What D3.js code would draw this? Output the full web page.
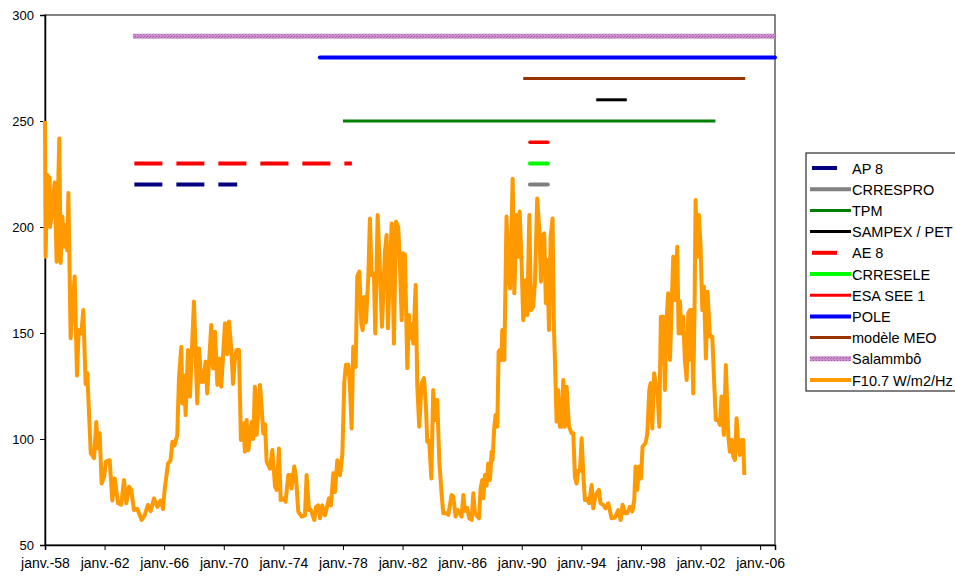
<!DOCTYPE html>
<html>
<head>
<meta charset="utf-8">
<script src="https://cdn.jsdelivr.net/npm/d3@7"></script>
<style>
  body { margin: 0; background: #fff; }
  svg { display: block; font-family: "Liberation Sans", Arial, sans-serif; }
</style>
</head>
<body>
<svg id="chart" width="955" height="578"></svg>
<script>
// Flat segments: one mission / model per row, level on the y scale, start and end in decimal years
const seriesNames = ["AP 8", "CRRESPRO", "TPM", "SAMPEX / PET", "AE 8", "CRRESELE",
                     "ESA SEE 1", "POLE", "modèle MEO", "Salammbô", "F10.7 W/m2/Hz"];
const seriesColors = ["#000080", "#808080", "#008000", "#000000", "#ff0000", "#00ff00",
                      "#ff0000", "#0000ff", "#993300", "url(#salam)", "#ff9900"];
const segLevel = [220, 220, 250, 260, 230, 230, 240, 280, 270, 290];
const segStart = [1964.0, 1990.55, 1978.0, 1995.0, 1964.0, 1990.55, 1990.55, 1976.45, 1990.1, 1963.9];
const segEnd   = [1970.9, 1991.75, 2003.0, 1997.05, 1978.6, 1991.75, 1991.75, 2007.0, 2005.0, 2007.0];

// F10.7 solar flux
const f107Year = [
  1958.00, 1958.04, 1958.16, 1958.31, 1958.34, 1958.49, 1958.65, 1958.78, 1958.83, 1958.96,
  1959.05, 1959.16, 1959.32, 1959.41, 1959.50, 1959.57, 1959.72, 1959.99, 1960.15, 1960.26,
  1960.44, 1960.57, 1960.73, 1960.84, 1961.07, 1961.29, 1961.44, 1961.56, 1961.67, 1961.80,
  1961.96, 1962.09, 1962.34, 1962.52, 1962.68, 1962.90, 1963.12, 1963.30, 1963.46, 1963.64,
  1963.79, 1963.97, 1964.20, 1964.49, 1964.69, 1964.91, 1965.09, 1965.32, 1965.54, 1965.76,
  1965.92, 1966.03, 1966.26, 1966.43, 1966.55, 1966.70, 1966.88, 1966.99, 1967.15, 1967.22,
  1967.33, 1967.44, 1967.60, 1967.73, 1968.00, 1968.22, 1968.34, 1968.49, 1968.63, 1968.78,
  1968.89, 1969.16, 1969.28, 1969.41, 1969.57, 1969.72, 1969.83, 1970.08, 1970.24, 1970.35,
  1970.51, 1970.62, 1970.75, 1970.86, 1971.02, 1971.15, 1971.31, 1971.42, 1971.53, 1971.65,
  1971.87, 1971.98, 1972.09, 1972.21, 1972.43, 1972.54, 1972.65, 1972.77, 1972.88, 1973.10,
  1973.26, 1973.44, 1973.55, 1973.70, 1973.82, 1974.00, 1974.15, 1974.33, 1974.44, 1974.55,
  1974.73, 1974.85, 1975.00, 1975.23, 1975.45, 1975.56, 1975.72, 1975.85, 1976.08, 1976.19,
  1976.34, 1976.46, 1976.61, 1976.79, 1976.90, 1977.06, 1977.19, 1977.35, 1977.46, 1977.62,
  1977.80, 1977.96, 1978.09, 1978.20, 1978.36, 1978.47, 1978.58, 1978.69, 1978.85, 1978.96,
  1979.10, 1979.23, 1979.32, 1979.43, 1979.54, 1979.70, 1979.81, 1979.92, 1980.08, 1980.17,
  1980.33, 1980.48, 1980.62, 1980.82, 1980.93, 1981.02, 1981.15, 1981.27, 1981.42, 1981.56,
  1981.71, 1981.83, 1981.94, 1982.05, 1982.16, 1982.32, 1982.43, 1982.54, 1982.61, 1982.72,
  1982.88, 1982.99, 1983.12, 1983.28, 1983.44, 1983.57, 1983.66, 1983.79, 1983.93, 1984.06,
  1984.17, 1984.33, 1984.47, 1984.62, 1984.73, 1984.96, 1985.07, 1985.29, 1985.40, 1985.56,
  1985.70, 1985.96, 1986.08, 1986.19, 1986.34, 1986.48, 1986.64, 1986.75, 1986.86, 1987.13,
  1987.24, 1987.35, 1987.42, 1987.53, 1987.64, 1987.75, 1987.87, 1987.98, 1988.04, 1988.16,
  1988.25, 1988.36, 1988.45, 1988.54, 1988.65, 1988.69, 1988.83, 1988.98, 1989.12, 1989.21,
  1989.39, 1989.50, 1989.66, 1989.77, 1989.86, 1989.99, 1990.10, 1990.21, 1990.28, 1990.37,
  1990.51, 1990.62, 1990.77, 1990.89, 1991.04, 1991.18, 1991.29, 1991.40, 1991.51, 1991.62,
  1991.71, 1991.83, 1991.94, 1992.07, 1992.16, 1992.23, 1992.34, 1992.45, 1992.56, 1992.68,
  1992.79, 1992.90, 1993.01, 1993.17, 1993.35, 1993.46, 1993.57, 1993.68, 1993.79, 1993.91,
  1994.02, 1994.13, 1994.24, 1994.35, 1994.53, 1994.69, 1994.80, 1994.96, 1995.18, 1995.29,
  1995.47, 1995.63, 1995.81, 1996.03, 1996.26, 1996.48, 1996.64, 1996.77, 1996.93, 1997.08,
  1997.26, 1997.42, 1997.55, 1997.64, 1997.75, 1997.87, 1998.00, 1998.11, 1998.31, 1998.43,
  1998.56, 1998.65, 1998.76, 1998.89, 1999.01, 1999.10, 1999.23, 1999.34, 1999.50, 1999.61,
  1999.72, 1999.83, 1999.95, 2000.06, 2000.17, 2000.30, 2000.44, 2000.53, 2000.62, 2000.73,
  2000.84, 2000.95, 2001.07, 2001.18, 2001.29, 2001.36, 2001.42, 2001.51, 2001.60, 2001.67,
  2001.78, 2001.89, 2002.00, 2002.12, 2002.23, 2002.36, 2002.47, 2002.63, 2002.79, 2002.90,
  2003.03, 2003.19, 2003.30, 2003.41, 2003.57, 2003.70, 2003.86, 2003.97, 2004.09, 2004.20,
  2004.31, 2004.42, 2004.53, 2004.64, 2004.76, 2004.87, 2004.94
];
const f107Value = [
  250, 186, 224.5, 223, 200, 208, 221, 183.6, 203, 241.8,
  183, 205, 190.7, 201, 189, 216, 147.5, 176.6, 130, 151.4,
  149.8, 160.8, 126, 131, 93.3, 91, 108, 95.6, 102.7, 79,
  82, 89.3, 90, 71, 81.4, 69.7, 69, 80.7, 69.7, 77.5,
  76, 66.5, 67, 61.8, 64, 68.9, 66, 72, 68, 71,
  67, 76, 88.5, 90, 98.7, 97, 101.9, 128.6, 143.5, 116.8,
  130, 111.3, 142, 120, 164.8, 116.8, 142.7, 127, 127, 136.5,
  121.5, 153.8, 133.3, 150.6, 125.5, 138, 124.7, 154.6, 140, 155.4,
  142, 126, 138, 142, 142, 99.5, 107.4, 94, 109, 94.7,
  108, 100, 124.7, 102, 125.5, 115, 102.6, 107, 89.3, 86,
  94.8, 77.5, 76, 95.5, 71.2, 72, 70.4, 83, 83, 76.7,
  87, 82, 65.7, 63.4, 64, 83, 66.5, 66.5, 61.8, 68,
  68.7, 62.6, 68.7, 64, 67, 72, 68.7, 83.8, 75, 90,
  82.9, 93, 127, 135, 135, 124.7, 105, 143.5, 134, 176.6,
  179, 154.6, 151.4, 167, 155, 176, 204, 177.4, 178, 149.8,
  205.7, 180, 153, 188.4, 196.2, 152.2, 180.5, 201.7, 145, 202.5,
  200, 181, 156, 187.6, 187, 133.4, 158.5, 147.5, 154, 145,
  172.6, 124.7, 105.8, 126.3, 128.7, 115.2, 98.7, 99, 81.4, 123.1,
  109, 118.4, 89.3, 74.4, 65, 65, 64.2, 73.6, 73, 63.4,
  66.5, 63.4, 73.6, 66, 67.5, 62.6, 61.8, 74.4, 65, 62.6,
  76.7, 80.7, 72, 83, 78, 88.5, 80.7, 94, 90, 105.8,
  111.3, 105.8, 141.2, 142, 137.3, 151.4, 137.3, 204.9, 175.8, 171,
  222.8, 168.7, 205.7, 186, 207.3, 183, 156, 163.2, 175, 158.5,
  205.7, 160.8, 162.4, 174.2, 213.5, 198.6, 174.2, 196.2, 197, 164,
  184.4, 151.4, 195.4, 204, 153, 137.3, 108.2, 123, 105.8, 105.8,
  127.8, 105.8, 124.7, 105.8, 102.7, 102.7, 82, 79, 85, 85,
  100.3, 83.8, 71.2, 72, 69.7, 78.3, 67.3, 73.6, 76, 69.7,
  68.9, 67.3, 69.7, 62.6, 63, 66.5, 61.8, 69, 65, 65,
  68, 65.8, 71.2, 87, 76, 87, 81.4, 96.4, 98, 102.7,
  123.1, 126.3, 105, 131, 125, 125, 105.8, 157.7, 157.7, 123.1,
  156, 168.7, 137.3, 161.6, 186, 165.6, 190.7, 149.8, 165, 149.8,
  157.7, 137.3, 127.8, 159.3, 160.8, 137.3, 160.8, 121.5, 162.4, 212.7,
  186, 205.7, 191.5, 160.8, 171.8, 138, 169.5, 148.3, 148.3, 129.4,
  109, 109, 106.6, 120, 101.9, 134.9, 101.9, 94, 99.5, 91.7,
  90.1, 109.8, 98, 92.5, 99.5, 99.5, 83
];

const yTicks = [50, 100, 150, 200, 250, 300];
const xTickYears = [1958, 1962, 1966, 1970, 1974, 1978, 1982, 1986, 1990, 1994, 1998, 2002, 2006];

const svg = d3.select("#chart");
const plot = { left: 45, right: 775, top: 15, bottom: 545 };

function toDate(yr) {
  const y = Math.floor(yr);
  return new Date(Date.UTC(y, 0, 1) + (yr - y) * 365.25 * 864e5);
}

const x = d3.scaleUtc()
  .domain([toDate(1958), toDate(2007)])
  .range([plot.left, plot.right]);
const y = d3.scaleLinear().domain([50, 300]).range([plot.bottom, plot.top]);

// pattern for the Salammbô line (pink-violet with darker dots)
const defs = svg.append("defs");
const pat = defs.append("pattern")
  .attr("id", "salam").attr("patternUnits", "userSpaceOnUse")
  .attr("width", 3).attr("height", 3);
pat.append("rect").attr("width", 3).attr("height", 3).attr("fill", "#cc8fcc");
pat.append("rect").attr("x", 0).attr("y", 0).attr("width", 1).attr("height", 1).attr("fill", "#9c5aa8");
pat.append("rect").attr("x", 2).attr("y", 1).attr("width", 1).attr("height", 1).attr("fill", "#a96cb4");

// plot area frame
svg.append("rect")
  .attr("x", plot.left).attr("y", plot.top)
  .attr("width", plot.right - plot.left).attr("height", plot.bottom - plot.top)
  .attr("fill", "none").attr("stroke", "#333").attr("stroke-width", 1.2);

// axes
const xAxis = svg.append("g")
  .attr("transform", "translate(0," + plot.bottom + ")")
  .call(d3.axisBottom(x)
    .tickValues(xTickYears.map(toDate))
    .tickSize(5)
    .tickFormat(d => "janv.-" + String(d.getUTCFullYear()).slice(2)));
xAxis.selectAll("text").attr("font-size", 14).attr("fill", "#000").attr("dy", "1.05em");

const yAxis = svg.append("g")
  .attr("transform", "translate(" + plot.left + ",0)")
  .call(d3.axisLeft(y).tickValues(yTicks).tickSize(5).tickPadding(6));
yAxis.selectAll("text").attr("font-size", 13).attr("fill", "#000");

svg.selectAll(".domain").attr("stroke", "#000").attr("stroke-width", 1.5);
svg.selectAll(".tick line").attr("stroke", "#000");

// style per series (stroke width, dash)
const segWidth = [4, 4, 3, 3, 4, 4, 3.5, 4, 3, 5];
const segDash = [ "28,14", null, null, null, "28,14", null, null, null, null, null];
const segCap  = ["butt", "round", "butt", "butt", "butt", "round", "round", "round", "butt", "butt"];

svg.append("g").selectAll("line")
  .data(segLevel.map((v, i) => i))
  .enter().append("line")
    .attr("x1", i => x(toDate(segStart[i])))
    .attr("x2", i => x(toDate(segEnd[i])))
    .attr("y1", i => y(segLevel[i]))
    .attr("y2", i => y(segLevel[i]))
    .attr("stroke", i => seriesColors[i])
    .attr("stroke-width", i => segWidth[i])
    .attr("stroke-dasharray", i => segDash[i])
    .attr("stroke-linecap", i => segCap[i]);

// F10.7 curve
const f107 = f107Year.map((yr, i) => ({ date: toDate(yr), value: f107Value[i] }));
svg.append("path")
  .datum(f107)
  .attr("fill", "none")
  .attr("stroke", "#ff9900")
  .attr("stroke-width", 4)
  .attr("stroke-linejoin", "round")
  .attr("d", d3.line().x(d => x(d.date)).y(d => y(d.value)));

// legend
const lg = svg.append("g");
lg.append("rect")
  .attr("x", 806).attr("y", 153).attr("width", 170).attr("height", 238)
  .attr("fill", "#fff").attr("stroke", "#000").attr("stroke-width", 1);

const legWidth = [4, 4, 3, 3, 4, 4, 3, 4, 3, 5, 4];
seriesNames.forEach((name, i) => {
  const ly = 168 + i * 21.2;
  const dashed = (name === "AP 8" || name === "AE 8");
  lg.append("line")
    .attr("x1", dashed ? 812 : 810).attr("x2", dashed ? 837 : 851)
    .attr("y1", ly).attr("y2", ly)
    .attr("stroke", seriesColors[i])
    .attr("stroke-width", legWidth[i]);
  lg.append("text")
    .attr("x", 852).attr("y", ly + 5.5)
    .attr("font-size", 14.5)
    .text(name);
});
</script>
</body>
</html>
